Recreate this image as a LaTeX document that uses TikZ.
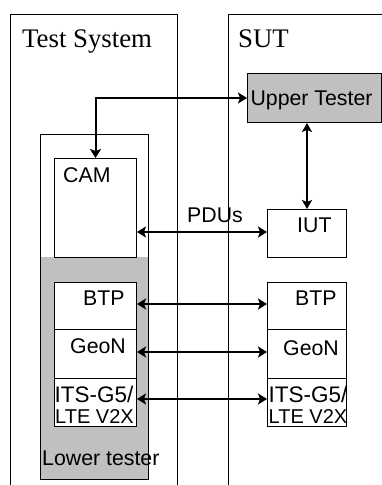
\documentclass[tikz,border=0pt]{standalone}
\usepackage{fontspec}
\setmainfont{Liberation Serif}
\newfontfamily\arialfont{Liberation Sans}
\usetikzlibrary{arrows.meta}
\definecolor{boxgrey}{HTML}{C0C0C0}
\tikzset{
  frame/.style={draw=black, line width=1pt},
  whitebox/.style={draw=black, fill=white, line width=1pt},
  greybox/.style={draw=black, fill=boxgrey, line width=1pt},
  title/.style={font=\fontsize{26.8}{26.8}\selectfont, inner sep=0pt, anchor=base west},
  lbl/.style={font=\arialfont\fontsize{21.3}{21.3}\selectfont, inner sep=0pt, anchor=base west},
  its/.style={font=\arialfont\fontsize{22.5}{22.5}\selectfont, inner sep=0pt, anchor=base west},
  lte/.style={font=\arialfont\fontsize{20}{20}\selectfont, inner sep=0pt, anchor=base west},
  link/.style={line width=2pt, {Stealth[length=9pt,width=11pt,inset=2pt]}-{Stealth[length=9pt,width=11pt,inset=2pt]}},
  vlink/.style={line width=1.5pt, {Stealth[length=9pt,width=10pt,inset=2pt]}-{Stealth[length=9pt,width=10pt,inset=2pt]}},
}
\begin{document}
\begin{tikzpicture}[x=1pt, y=-1pt]
\useasboundingbox (0,0) rectangle (382,485);
% system frames
\draw[frame] (10,495) -- (10,14) -- (177,14) -- (177,495);
\draw[frame] (390,14) -- (228,14) -- (228,495);
\node[title] (tstitle) at (22,47) {Test System};
\node[title] (suttitle) at (238,47) {SUT};
% lower tester container
\draw[whitebox] (40,134) rectangle (148,479);
\fill[boxgrey] (40,257) rectangle (148,479);
\draw[line width=1pt] (40,134) rectangle (148,479);
\node[lbl] (lowerlbl) at (42,465) {Lower tester};
% left stack
\node[whitebox, minimum width=82pt, minimum height=99pt, inner sep=0pt, anchor=north west] (cam) at (54,158) {};
\node[lbl] (camlbl) at (63,182) {CAM};
\node[whitebox, minimum width=82pt, minimum height=47pt, inner sep=0pt, anchor=north west] (btpL) at (54,282) {};
\node[whitebox, minimum width=82pt, minimum height=49pt, inner sep=0pt, anchor=north west] (geoL) at (54,329) {};
\node[whitebox, minimum width=82pt, minimum height=48pt, inner sep=0pt, anchor=north west] (itsL) at (54,378) {};
\node[lbl] (btpLlbl) at (83,305) {BTP};
\node[lbl] (geoLlbl) at (70,353) {GeoN};
\node[its] (itsLa) at (54.5,402) {ITS-G5/};
\node[lte] (itsLb) at (55,423) {LTE V2X};
% right stack
\node[greybox, minimum width=134pt, minimum height=49pt, inner sep=0pt, anchor=north west] (upper) at (247,73) {};
\node[lbl, anchor=base] (upperlbl) at (311.5,105) {Upper Tester};
\node[whitebox, minimum width=79pt, minimum height=48pt, inner sep=0pt, anchor=north west] (iut) at (267,209) {};
\node[lbl] (iutlbl) at (297,232) {IUT};
\node[whitebox, minimum width=79pt, minimum height=47pt, inner sep=0pt, anchor=north west] (btpR) at (267,282) {};
\node[whitebox, minimum width=79pt, minimum height=49pt, inner sep=0pt, anchor=north west] (geoR) at (267,329) {};
\node[whitebox, minimum width=79pt, minimum height=48pt, inner sep=0pt, anchor=north west] (itsR) at (267,378) {};
\node[lbl] (btpRlbl) at (295,305) {BTP};
\node[lbl] (geoRlbl) at (283,355) {GeoN};
\node[its] (itsRa) at (268.5,402) {ITS-G5/};
\node[lte] (itsRb) at (268.5,423) {LTE V2X};
% connectors
\draw[link] (cam.north) |- (upper.west);
\draw[vlink] (upper.south -| iut.north) -- (iut.north);
\coordinate (pduL) at (cam.east |- 0,232);
\coordinate (pduR) at (iut.west |- 0,232);
\draw[link] (pduL) -- (pduR);
\node[lbl] (pdulbl) at (187,222) {PDUs};
\coordinate (btpA) at (btpL.east |- 0,304);
\coordinate (btpB) at (btpR.west |- 0,304);
\draw[link] (btpA) -- (btpB);
\coordinate (geoA) at (geoL.east |- 0,352);
\coordinate (geoB) at (geoR.west |- 0,352);
\draw[link] (geoA) -- (geoB);
\coordinate (itsA) at (itsL.east |- 0,399);
\coordinate (itsB) at (itsR.west |- 0,399);
\draw[link] (itsA) -- (itsB);
\end{tikzpicture}
\end{document}
